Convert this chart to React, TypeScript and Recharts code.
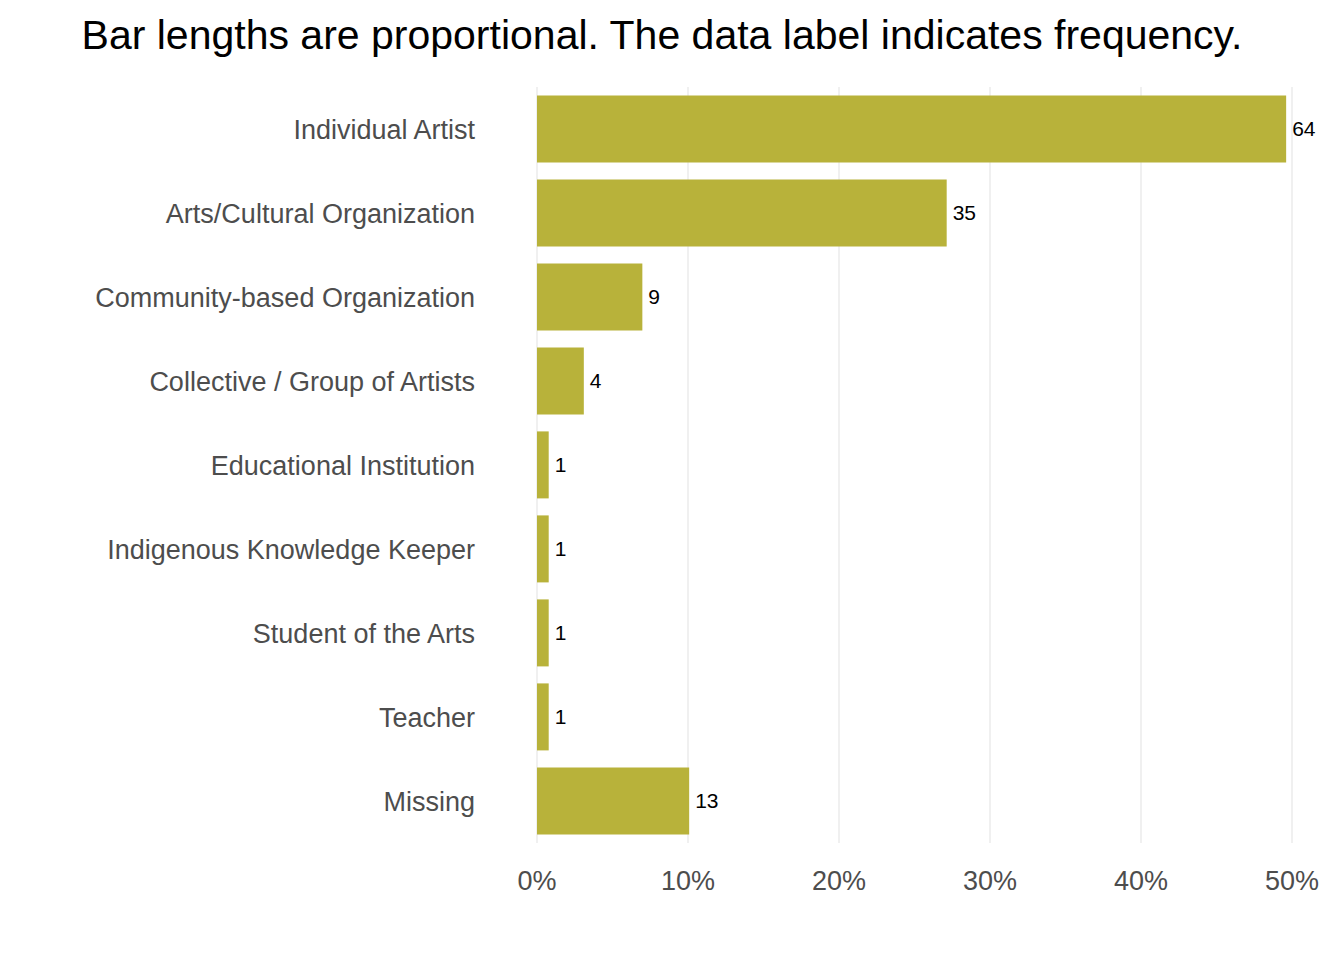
import React from "react";
import { BarChart, Bar, XAxis, YAxis, CartesianGrid, LabelList } from "recharts";

const categories = ["Individual Artist","Arts/Cultural Organization","Community-based Organization","Collective / Group of Artists","Educational Institution","Indigenous Knowledge Keeper","Student of the Arts","Teacher","Missing"];
const counts = [64,35,9,4,1,1,1,1,13];
const ticks = [0,0.1,0.2,0.3,0.4,0.5];
const total = counts.reduce((a,b)=>a+b,0);
const data = categories.map((c,i)=>({name:c,count:counts[i],share:counts[i]/total}));

export default function App() {
  return (
    <div style={{position:"absolute",left:0,top:0,width:1344,height:960,background:"#fff",fontFamily:"'Liberation Sans', Arial, sans-serif"}}>
      <div style={{position:"absolute",left:0,width:1324,top:12,textAlign:"center",fontSize:41,color:"#000",whiteSpace:"nowrap"}}>
        Bar lengths are proportional. The data label indicates frequency.
      </div>
      <BarChart width={1344} height={960} data={data} layout="vertical" barCategoryGap="10%"
        margin={{top:87,right:52,bottom:57,left:0}}>
        <CartesianGrid horizontal={false} stroke="#ebebeb" strokeWidth={1.5} />
        <XAxis type="number" domain={[0,0.5]} ticks={ticks} height={60} tickLine={false} axisLine={false}
          tickFormatter={(v:number)=>`${Math.round(v*100)}%`} tickMargin={22}
          tick={{fontSize:27,fill:"#4d4d4d"}} />
        <YAxis type="category" dataKey="name" width={537} tickLine={false} axisLine={false} tickMargin={56}
          tick={{fontSize:27,fill:"#4d4d4d"}} />
        <Bar dataKey="share" fill="#b8b23a" isAnimationActive={false}>
          <LabelList dataKey="count" position="right" offset={6} style={{fontSize:21,fill:"#000"}} />
        </Bar>
      </BarChart>
    </div>
  );
}
